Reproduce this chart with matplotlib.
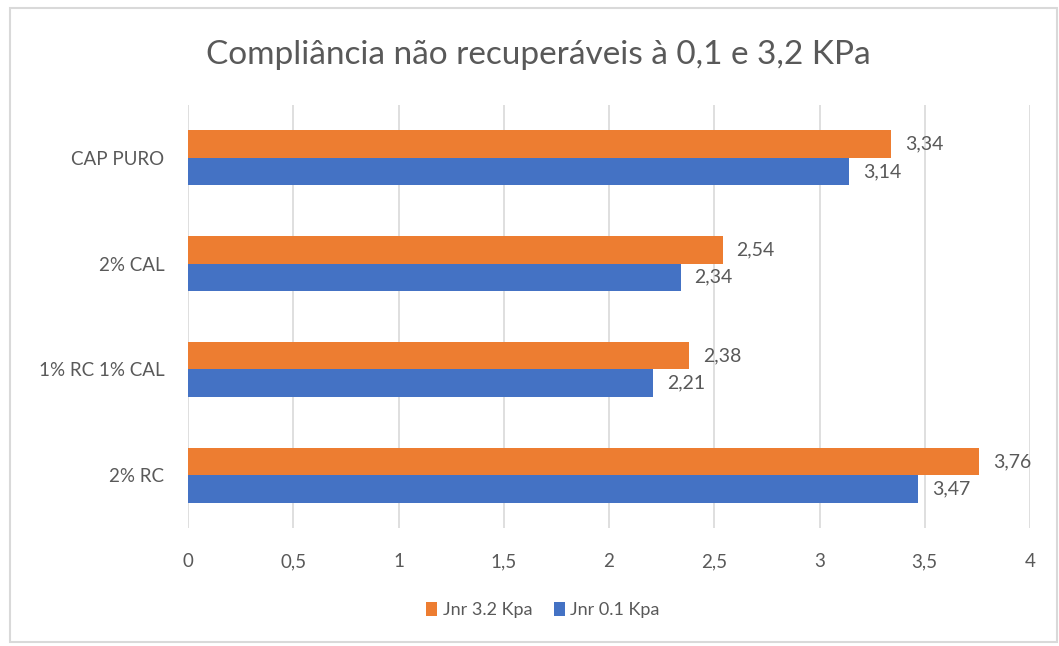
import matplotlib.pyplot as plt
import numpy as np
from matplotlib.patches import Rectangle

categories = ["CAP PURO", "2% CAL", "1% RC 1% CAL", "2% RC"]
jnr_32 = [3.34, 2.54, 2.38, 3.76]
jnr_01 = [3.14, 2.34, 2.21, 3.47]
xticks = [0, 0.5, 1, 1.5, 2, 2.5, 3, 3.5, 4]
xtick_labels = ["0", "0,5", "1", "1,5", "2", "2,5", "3", "3,5", "4"]

plt.rcParams['font.family'] = ['Lato', 'DejaVu Sans']
grey = "#595959"
orange = "#ED7D31"
blue = "#4472C4"

fig = plt.figure(figsize=(10.59, 6.46), dpi=100)
fig.patches.append(Rectangle((10 / 1059, 1 - 642 / 646), 1047 / 1059, 634 / 646,
                             transform=fig.transFigure, fill=False,
                             edgecolor="#d9d9d9", linewidth=1.5))
ax = fig.add_axes([188 / 1059, 1 - 528 / 646, 842 / 1059, 423 / 646])

y = np.arange(len(categories))
h = 0.26
b1 = ax.barh(y - h / 2, jnr_32, height=h, color=orange, label="Jnr 3.2 Kpa", zorder=3)
b2 = ax.barh(y + h / 2, jnr_01, height=h, color=blue, label="Jnr 0.1 Kpa", zorder=3)

for bars, vals in ((b1, jnr_32), (b2, jnr_01)):
    for bar, v in zip(bars, vals):
        ax.annotate(f"{v:.2f}".replace(".", ","),
                    (bar.get_width(), bar.get_y() + bar.get_height() / 2),
                    xytext=(10, 0), textcoords="offset points",
                    va="center", ha="left", fontsize=14, color=grey)

ax.set_ylim(len(categories) - 0.5, -0.5)
ax.set_xlim(0, 4)
ax.set_yticks(y)
ax.set_yticklabels(categories, fontsize=13.5, color=grey)
ax.set_xticks(xticks)
ax.set_xticklabels(xtick_labels, fontsize=13.5, color=grey)
ax.tick_params(axis="both", length=0)
ax.tick_params(axis="x", pad=18)
ax.tick_params(axis="y", pad=17)
ax.grid(axis="x", color="#d9d9d9", linewidth=1.2, zorder=0)
for s in ax.spines.values():
    s.set_visible(False)

fig.text(538 / 1059, 1 - 55 / 646, "Compliância não recuperáveis à 0,1 e 3,2 KPa",
         ha="center", va="center", fontsize=24, color=grey)

handles = [b1, b2]
fig.legend(handles, [hd.get_label() for hd in handles], loc="center",
           bbox_to_anchor=(543 / 1059, 1 - 610 / 646), ncol=2, frameon=False,
           fontsize=13, labelcolor=grey, handlelength=0.6, handleheight=0.8,
           handletextpad=0.3, columnspacing=1.2)

fig.savefig("out.png", dpi=100)
